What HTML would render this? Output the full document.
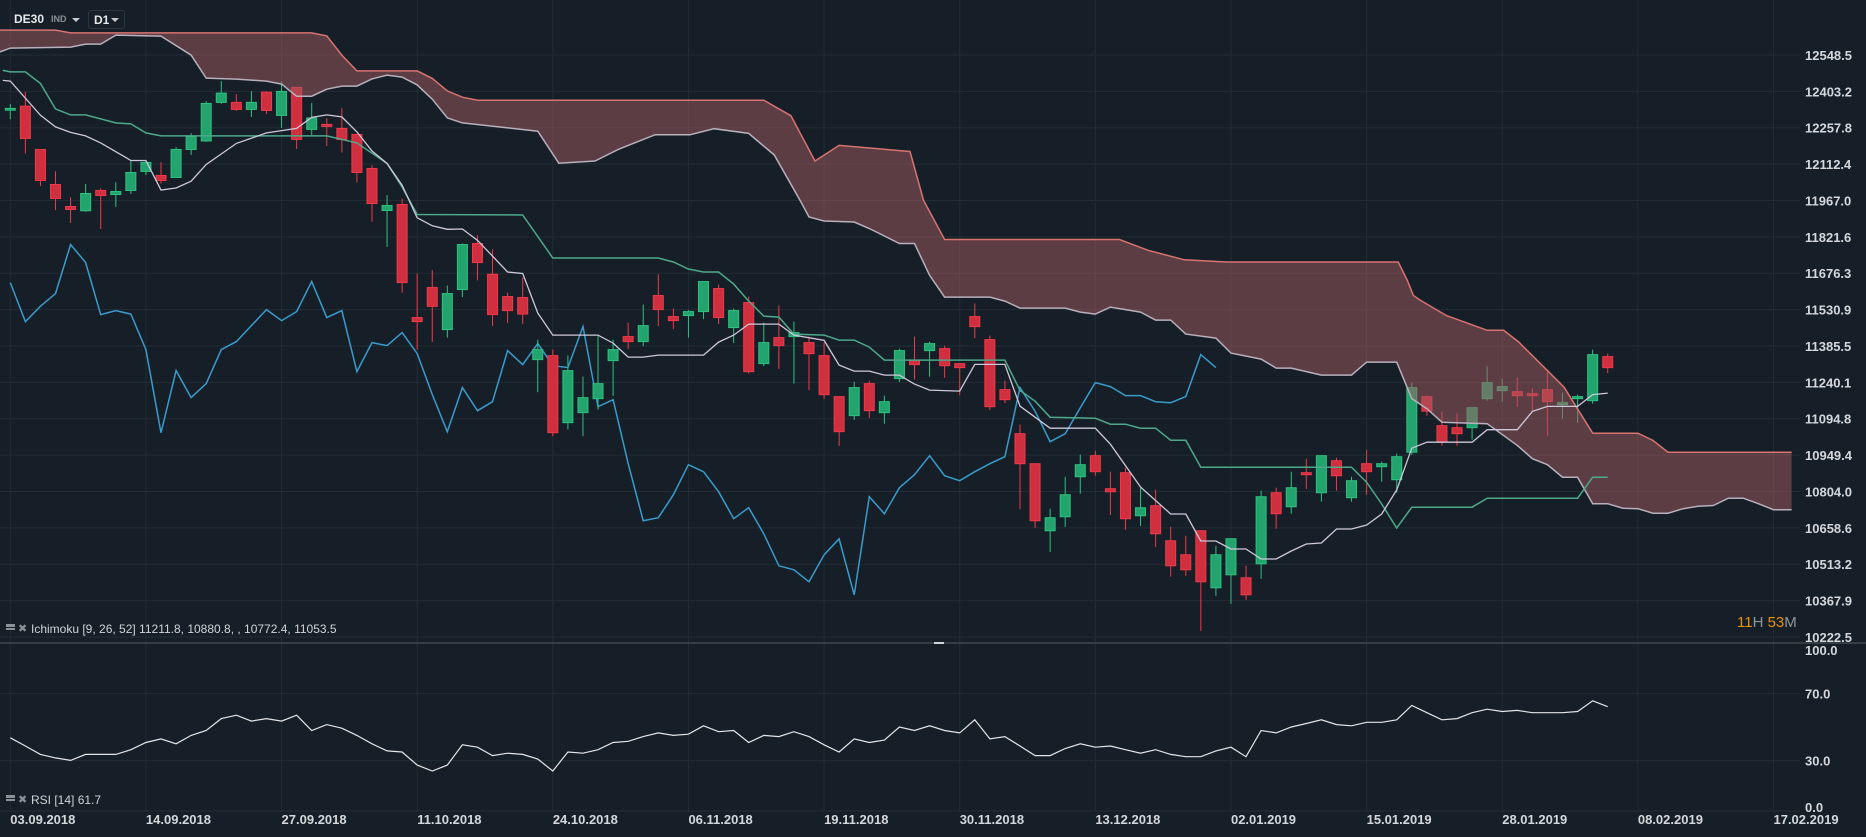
<!DOCTYPE html>
<html><head><meta charset="utf-8"><style>
html,body{margin:0;padding:0;background:#161f27;}
body{width:1866px;height:837px;overflow:hidden;position:relative;font-family:"Liberation Sans",sans-serif;}
svg{position:absolute;left:0;top:0;}
.hdr{position:absolute;color:#e6e8ea;font-weight:bold;}
</style></head><body>
<svg id="chart" width="1866" height="837"></svg>
<div class="hdr" style="left:14px;top:12px;font-size:12px;">DE30</div>
<div class="hdr" style="left:51px;top:14px;font-size:9px;color:#8a9298;">IND</div>
<div style="position:absolute;left:72px;top:18px;width:0;height:0;border-left:4px solid transparent;border-right:4px solid transparent;border-top:4px solid #c8ccd0;"></div>
<div style="position:absolute;left:88px;top:10px;width:35px;height:17px;border:1px solid #2c363e;border-radius:3px;"><span style="position:absolute;left:5px;top:2px;color:#e6e8ea;font-weight:bold;font-size:12px;">D1</span><span style="position:absolute;left:22px;top:7px;width:0;height:0;border-left:4px solid transparent;border-right:4px solid transparent;border-top:4px solid #c8ccd0;"></span></div>
<div style="position:absolute;left:1737px;top:614px;font-size:15px;color:#8d959b;"><span style="color:#e8900c">11</span>H <span style="color:#e8900c">53</span>M</div>
<script>
const opens=[12328,12344,12171,12031,11943,11926,12007,11991,12007,12083,12067,12059,12171,12205,12359,12359,12331,12400,12307,12419,12251,12271,12255,12231,12095,11927,11951,11499,11619,11451,11611,11795,11672,11583,11579,11331,11347,11079,11119,11175,11327,11423,11403,11587,11503,11507,11523,11615,11459,11559,11315,11419,11423,11399,11347,11183,11107,11235,11119,11255,11327,11367,11375,11315,11503,11411,11211,11035,10915,10647,10703,10863,10947,10815,10879,10707,10747,10607,10551,10647,10419,10471,10459,10515,10799,10743,10879,10799,10927,10779,10915,10903,10851,10961,11183,11067,11059,11059,11175,11207,11203,11195,11211,11151,11175,11167,11343];
const highs=[12352,12401,12171,12084,11980,12033,12016,12040,12128,12128,12120,12180,12236,12364,12444,12392,12404,12404,12444,12419,12357,12296,12336,12231,12108,11988,11975,11675,11688,11627,11795,11828,11772,11599,11659,11411,11371,11347,11263,11427,11411,11479,11551,11672,11535,11529,11643,11631,11535,11583,11479,11547,11483,11423,11399,11183,11243,11247,11187,11375,11423,11403,11387,11315,11556,11427,11247,11071,10915,10735,10863,10951,10967,10883,10899,10819,10811,10663,10627,10647,10587,10615,10507,10807,10819,10883,10935,10947,10939,10863,10971,10923,10955,11239,11187,11124,11115,11139,11304,11255,11259,11215,11291,11199,11191,11371,11355];
const lows=[12292,12155,12025,11929,11877,11922,11853,11941,11993,12069,12035,12059,12149,12201,12353,12325,12301,12313,12257,12173,12228,12185,12159,12039,11882,11782,11598,11371,11402,11419,11581,11648,11465,11477,11473,11201,11025,11052,11025,11131,11186,11373,11385,11465,11453,11419,11493,11473,11397,11275,11305,11293,11235,11209,11173,10986,11090,11098,11075,11241,11251,11263,11259,11189,11417,11129,11157,10733,10658,10562,10662,10795,10867,10710,10651,10666,10582,10463,10467,10247,10387,10355,10371,10455,10655,10715,10814,10763,10807,10763,10791,10843,10799,10951,11107,10987,10987,11011,11167,11163,11143,11123,11027,11095,11079,11155,11277];
const closes=[12335,12215,12047,11975,11931,11995,11987,12003,12079,12119,12047,12171,12223,12355,12396,12331,12359,12327,12403,12211,12297,12263,12211,12079,11955,11947,11639,11483,11544,11595,11791,11719,11511,11527,11513,11371,11039,11287,11179,11235,11371,11403,11467,11531,11487,11523,11643,11499,11527,11283,11399,11387,11439,11355,11191,11043,11219,11127,11163,11367,11311,11395,11307,11299,11463,11143,11171,10915,10687,10699,10791,10911,10883,10803,10695,10739,10635,10507,10491,10443,10551,10615,10391,10783,10715,10819,10871,10947,10867,10847,10883,10915,10943,11219,11125,11003,11035,11139,11239,11223,11187,11187,11163,11159,11183,11351,11299];
const tenkan=[[-0.5,12447],[0,12444],[2,12308],[3,12261],[4,12239],[5,12225],[6,12197],[8,12127],[9,12127],[10,12009],[11,12017],[12,12044],[13,12111],[15,12195],[17,12237],[19,12255],[20,12299],[21,12309],[22,12301],[23,12241],[24,12165],[25,12115],[26,12028],[27,11898],[28,11866],[29,11852],[30,11853],[31,11808],[33,11681],[34,11675],[35,11517],[36,11429],[39,11429],[40,11397],[41,11341],[42,11341],[43,11349],[46,11349],[47,11401],[48,11429],[49,11473],[51,11473],[52,11429],[54,11408],[55,11309],[56,11285],[57,11285],[58,11269],[59,11269],[60,11233],[61,11209],[63,11205],[64,11312],[66,11312],[67,11145],[69,11057],[72,11057],[73,10993],[75,10822],[77,10714],[78,10714],[79,10606],[80,10606],[81,10574],[82,10574],[83,10534],[84,10534],[85,10566],[86,10594],[87,10598],[88,10654],[89,10654],[90,10670],[91,10714],[92,10810],[93,10977],[94,11001],[97,11001],[98,11051],[100,11051],[101,11124],[102,11144],[104,11144],[105,11191],[106,11197]];
const kijun=[[-0.5,12487],[0,12481],[1,12481],[2,12435],[3,12333],[4,12309],[5,12309],[7,12277],[8,12273],[9,12237],[10,12225],[21,12225],[23,12197],[25,12115],[26,12021],[27,11911],[34,11909],[36,11737],[43,11737],[44,11721],[45,11693],[46,11681],[47,11681],[48,11633],[49,11565],[50,11505],[51,11501],[52,11433],[54,11429],[55,11409],[56,11409],[57,11381],[58,11329],[66,11329],[67,11208],[68,11165],[69,11101],[72,11097],[73,11073],[74,11073],[75,11057],[76,11057],[77,11009],[78,11009],[79,10901],[89,10901],[90,10841],[91,10754],[92,10658],[93,10741],[97,10741],[98,10777],[104,10777],[105,10861],[106,10861]];
const spanA=[[-0.7,12561],[0,12576],[4,12580],[5,12592],[6,12592],[7,12628],[10,12624],[12,12548],[13,12456],[15,12452],[17,12444],[18,12432],[19,12384],[20,12384],[21,12412],[22,12424],[23,12424],[24,12453],[25,12468],[26,12460],[27,12429],[28,12372],[29,12297],[30,12277],[35,12244],[36.4,12116],[38.8,12125],[40.4,12173],[42.8,12230],[45.1,12230],[46.7,12254],[49,12235],[50.7,12149],[52.4,11968],[53,11901],[54,11885],[56,11881],[57,11855],[59,11795],[60,11795],[61,11668],[62,11581],[65,11581],[66,11565],[67,11537],[70,11537],[71,11521],[72,11513],[73,11541],[75,11521],[76,11489],[77,11489],[78,11433],[80,11417],[81,11357],[83,11333],[84,11297],[85,11297],[87,11269],[89,11269],[90,11321],[92,11321],[93,11175],[94,11135],[95,11081],[98,11075],[100,10988],[101,10935],[102,10911],[103,10861],[104,10861],[105,10755],[106,10755],[107,10737],[108,10735],[109,10717],[110,10717],[111,10735],[112,10745],[113,10748],[114,10777],[115,10777],[116,10755],[117,10731],[118.2,10731]];
const spanB=[[-0.7,12648],[3,12648],[4,12637],[20,12637],[21,12625],[22,12548],[23,12485],[27,12485],[28,12455],[29,12405],[30,12380],[31,12368],[50,12368],[51.8,12306],[53.4,12125],[55,12187],[59.7,12163],[60.6,11968],[62,11811],[73.6,11811],[75.5,11768],[77.9,11730],[80.7,11721],[92.1,11721],[92.7,11648],[93.1,11588],[93.5,11571],[95.3,11507],[98,11448],[99.1,11448],[100.1,11401],[103.1,11221],[105,11037],[108,11037],[109,11008],[110,10961],[118.2,10961]];
const rsi=[43.6,38.7,33.7,31.6,30.1,33.7,33.7,33.7,36.5,40.8,42.9,40,45,47.9,55,57,53.5,55,53.5,57,47.9,51.4,49.3,45,40,35.8,35.1,27.3,23.8,27.3,39.4,38,33,34.4,33.7,30.9,23.8,35.1,34.4,36.5,40.8,41.5,44.3,46.5,45,45.7,50.7,47.2,47.9,40.8,45,44.3,47.2,44.3,39.4,35.1,42.9,40.8,42.2,50,47.9,50.7,47.9,46.5,54.3,42.9,44.3,38.7,33,33,37.2,40,38,38.7,36.5,34.4,36.5,33.7,32.3,32.3,35.8,38,32.3,47.9,46.5,50,52.1,54.3,51.4,50.7,52.8,52.8,54.3,62.8,58.5,54.3,55,58.5,60.6,59.2,59.9,58.5,58.5,58.5,59.2,65.6,62.1];
const priceTicks=[12548.5,12403.2,12257.8,12112.4,11967.0,11821.6,11676.3,11530.9,11385.5,11240.1,11094.8,10949.4,10804.0,10658.6,10513.2,10367.9,10222.5];
const rsiTicks=[100,70,30,0];
const dateTicks=[[0,"03.09.2018"],[9,"14.09.2018"],[18,"27.09.2018"],[27,"11.10.2018"],[36,"24.10.2018"],[45,"06.11.2018"],[54,"19.11.2018"],[63,"30.11.2018"],[72,"13.12.2018"],[81,"02.01.2019"],[90,"15.01.2019"],[99,"28.01.2019"],[108,"08.02.2019"],[117,"17.02.2019"]];
const chikouShift=26;

const NS="http://www.w3.org/2000/svg";
const svg=document.getElementById('chart');
const X=i=>10.3+15.07*i;
const Y=p=>55+(12548.5-p)*0.2502;
const RY=v=>811-1.68*v;
function mk(tag,attrs,parent){const e=document.createElementNS(NS,tag);for(const k in attrs)e.setAttribute(k,attrs[k]);(parent||svg).appendChild(e);return e;}
const pts=arr=>arr.map(d=>X(d[0]).toFixed(1)+','+Y(d[1]).toFixed(1)).join(' ');

const grid=mk('g',{});


priceTicks.forEach(t=>{
  const l=mk('line',{x1:0,x2:1800,y1:Y(t),y2:Y(t),stroke:'#222c34','stroke-width':1},grid);
  
  
  const tx=mk('text',{x:1805,y:Y(t)+5,fill:'#d4d8dc','font-size':13,'font-weight':'bold','font-family':'Liberation Sans, sans-serif'});
  tx.textContent=t.toFixed(1);
  
  
});
rsiTicks.forEach(t=>{
  if(t<100){const l=mk('line',{x1:0,x2:1800,y1:RY(t),y2:RY(t),stroke:'#222c34','stroke-width':1},grid);
  
  }
  const tx=mk('text',{x:1805,y:(t===100?655:RY(t)+(t===0?1:5)),fill:'#d4d8dc','font-size':13,'font-weight':'bold','font-family':'Liberation Sans, sans-serif'});
  tx.textContent=t.toFixed(1);
  
  
});
dateTicks.forEach(d=>{
  const l=mk('line',{x1:X(d[0]),x2:X(d[0]),y1:0,y2:812,stroke:'#222c34','stroke-width':1},grid);
  
  
  const tx=mk('text',{x:X(d[0]),y:824,fill:'#d4d8dc','font-size':13,'font-weight':'bold','font-family':'Liberation Sans, sans-serif'});
  tx.textContent=d[1];
  
  
});

const ch=[];for(let i=0;i+chikouShift<closes.length;i++)ch.push([i,closes[i+chikouShift]]);
const chl=mk('polyline',{points:pts(ch),fill:'none',stroke:'#3a9bcc','stroke-width':1.5});



const cg=mk('g',{});


for(let i=0;i<opens.length;i++){
  const up=closes[i]>=opens[i];
  const col=up?'#23a36e':'#cf2f3e',brd=up?'#2ec27f':'#f03a4a';
  const g=mk('g',{},cg);
  
  
  mk('line',{x1:X(i),x2:X(i),y1:Y(highs[i]),y2:Y(lows[i]),stroke:brd,'stroke-width':1},g);
  const t=Y(Math.max(opens[i],closes[i])),b=Y(Math.min(opens[i],closes[i]));
  mk('rect',{x:X(i)-5,y:t,width:10,height:Math.max(1.5,b-t),fill:col,stroke:brd,'stroke-width':1},g);
}

const cloud=mk('polygon',{points:pts(spanB)+' '+pts(spanA.slice().reverse()),fill:'rgba(160,90,95,0.52)',stroke:'none'});


const sb=mk('polyline',{points:pts(spanB),fill:'none',stroke:'#d8736f','stroke-width':1.5});


const sa=mk('polyline',{points:pts(spanA),fill:'none',stroke:'#b8b0bc','stroke-width':1.5});


const kj=mk('polyline',{points:pts(kijun),fill:'none',stroke:'#4ea88a','stroke-width':1.5});


const tk=mk('polyline',{points:pts(tenkan),fill:'none',stroke:'#cfc8dc','stroke-width':1.3});



const dv=mk('line',{x1:0,x2:1866,y1:643,y2:643,stroke:'#3e484f','stroke-width':1.5});


mk('line',{x1:934,x2:944,y1:643,y2:643,stroke:'#d0d4d8','stroke-width':2});

const rl=mk('polyline',{points:rsi.map((v,i)=>X(i).toFixed(1)+','+RY(v).toFixed(1)).join(' '),fill:'none',stroke:'#e4e6e8','stroke-width':1.2});



function legend(y,txt,name){
  const g=mk('g',{});
  
  
  mk('rect',{x:6,y:y-8,width:9,height:3,fill:'#8a9298'},g);
  mk('rect',{x:6,y:y-4,width:9,height:2,fill:'#8a9298'},g);
  const x=mk('text',{x:18,y:y,fill:'#8a9298','font-size':11,'font-weight':'bold','font-family':'DejaVu Sans, sans-serif'},g);
  x.textContent='✖';
  const t=mk('text',{x:31,y:y+1,fill:'#d0d4d8','font-size':12,'font-family':'Liberation Sans, sans-serif','xml:space':'preserve'},g);
  t.textContent=txt;
}
legend(632,'Ichimoku  [9, 26, 52]  11211.8,  10880.8,  , 10772.4,  11053.5','ichimoku-legend');
legend(803,'RSI [14]  61.7','rsi-legend');
</script>
</body></html>
